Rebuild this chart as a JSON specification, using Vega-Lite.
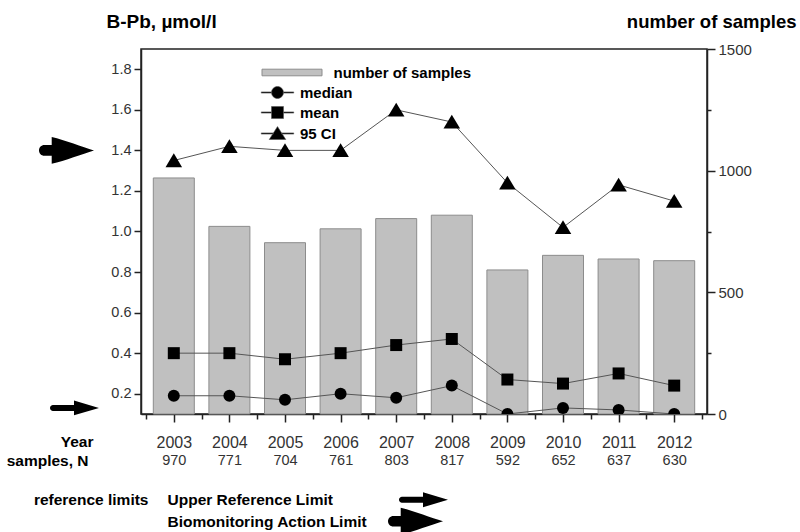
{
  "$schema": "https://vega.github.io/schema/vega-lite/v6.json",
  "padding": {"left": 5, "top": 11, "right": 0, "bottom": 0},
  "datasets": {
    "samples": [
      {"year": 2003, "n": 970, "median": 0.19, "mean": 0.40, "95 CI": 1.35},
      {"year": 2004, "n": 771, "median": 0.19, "mean": 0.40, "95 CI": 1.42},
      {"year": 2005, "n": 704, "median": 0.17, "mean": 0.37, "95 CI": 1.40},
      {"year": 2006, "n": 761, "median": 0.20, "mean": 0.40, "95 CI": 1.40},
      {"year": 2007, "n": 803, "median": 0.18, "mean": 0.44, "95 CI": 1.60},
      {"year": 2008, "n": 817, "median": 0.24, "mean": 0.47, "95 CI": 1.54},
      {"year": 2009, "n": 592, "median": 0.10, "mean": 0.27, "95 CI": 1.24},
      {"year": 2010, "n": 652, "median": 0.13, "mean": 0.25, "95 CI": 1.02},
      {"year": 2011, "n": 637, "median": 0.12, "mean": 0.30, "95 CI": 1.23},
      {"year": 2012, "n": 630, "median": 0.10, "mean": 0.24, "95 CI": 1.15}
    ],
    "limits": [
      {"limit": "Upper Reference Limit", "value": 0.13},
      {"limit": "Biomonitoring Action Limit", "value": 1.4}
    ]
  },
  "bounds": "flush",
  "spacing": 43,
  "hconcat": [
    {
      "width": 60,
      "height": 365,
      "data": {"name": "limits"},
      "layer": [
        {
          "transform": [{"filter": "datum.limit === 'Upper Reference Limit'"}],
          "mark": {"type": "point", "filled": true, "color": "black", "opacity": 1, "size": 576,
                   "shape": "M-1.25,-0.25L0.5,-0.25L0.5,-0.62L2.583,0L0.5,0.62L0.5,0.25L-1.25,0.25A0.25,0.25 0 0 1 -1.25,-0.25Z"},
          "encoding": {
            "y": {"field": "value", "type": "quantitative", "scale": {"domain": [0.1, 1.9], "nice": false, "zero": false}, "axis": null}
          }
        },
        {
          "transform": [{"filter": "datum.limit === 'Biomonitoring Action Limit'"}],
          "mark": {"type": "point", "filled": true, "color": "black", "opacity": 1, "size": 576,
                   "shape": "M-1.976,-0.44L-1.358,-0.44L-1.358,-1.12C-0.23,-0.85 1.17,-0.3 2.167,0C1.17,0.3 -0.23,0.85 -1.358,1.12L-1.358,0.44L-1.976,0.44A0.44,0.44 0 0 1 -1.976,-0.44Z"},
          "encoding": {
            "y": {"field": "value", "type": "quantitative", "scale": {"domain": [0.1, 1.9], "nice": false, "zero": false}, "axis": null}
          }
        }
      ]
    },
    {
      "bounds": "flush",
      "spacing": 75,
      "vconcat": [
        {
          "width": 566,
          "height": 365,
          "view": {"stroke": "#222", "strokeWidth": 1.5},
          "data": {"name": "samples"},
          "layer": [
            {
              "mark": {"type": "bar", "orient": "vertical", "size": 41, "stroke": "#8c8c8c", "strokeWidth": 1},
              "encoding": {
                "x": {
                  "field": "year", "type": "quantitative",
                  "scale": {"domain": [2002.5, 2012.5], "nice": false, "zero": false},
                  "axis": {
                    "orient": "bottom",
                    "values": [2003, 2004, 2005, 2006, 2007, 2008, 2009, 2010, 2011, 2012],
                    "format": "d",
                    "labelOverlap": false,
                    "tickSize": 8,
                    "labelFontSize": 16,
                    "labelPadding": 20.5,
                    "labelBaseline": "middle",
                    "title": "Year",
                    "titleX": -48,
                    "titleY": 27.5,
                    "titleAlign": "right",
                    "titleBaseline": "middle",
                    "titleAngle": 0,
                    "titleFontSize": 15.5,
                    "titleFontWeight": "bold",
                    "titleColor": "black"
                  }
                },
                "y": {
                  "field": "n", "type": "quantitative",
                  "scale": {"domain": [0, 1500], "nice": false},
                  "axis": {
                    "orient": "right",
                    "values": [0, 250, 500, 750, 1000, 1250, 1500],
                    "format": "d",
                    "labelExpr": "datum.value % 500 === 0 ? datum.label : ''",
                    "labelOverlap": false,
                    "tickSize": {"condition": {"test": "datum.value % 500 !== 0", "value": 4}, "value": 8},
                    "labelFontSize": 15,
                    "labelPadding": 3,
                    "title": "number of samples",
                    "titleAngle": 0,
                    "titleX": 89,
                    "titleY": -21.5,
                    "titleAlign": "right",
                    "titleBaseline": "alphabetic",
                    "titleFontSize": 18.5,
                    "titleFontWeight": "bold",
                    "titleColor": "black"
                  }
                },
                "fill": {
                  "datum": "number of samples", "type": "nominal",
                  "scale": {"range": ["#c0c0c0"]},
                  "legend": {
                    "title": null,
                    "orient": "none",
                    "legendX": 246.5,
                    "legendY": 16,
                    "padding": 0,
                    "symbolType": "M-5,-0.55H5V0.55H-5Z",
                    "symbolSize": 144,
                    "symbolStrokeColor": "#8c8c8c",
                    "symbolStrokeWidth": 1,
                    "labelOffset": 34,
                    "labelFontSize": 15,
                    "labelFontWeight": "bold",
                    "labelColor": "black"
                  }
                }
              }
            },
            {
              "transform": [{"fold": ["median", "mean", "95 CI"], "as": ["stat", "value"]}],
              "layer": [
                {
                  "mark": {"type": "line", "strokeWidth": 1, "clip": true},
                  "encoding": {
                    "x": {
                      "field": "year", "type": "quantitative",
                      "scale": {"domain": [2002.5, 2012.5], "nice": false, "zero": false},
                      "axis": {
                        "orient": "bottom",
                        "values": [2003, 2004, 2005, 2006, 2007, 2008, 2009, 2010, 2011, 2012],
                        "labelExpr": "'' + data('samples')[datum.value - 2003].n",
                        "labelOverlap": false,
                        "ticks": false,
                        "tickSize": 0,
                        "domain": false,
                        "labelFontSize": 14.5,
                        "labelPadding": 46.5,
                        "labelBaseline": "middle",
                        "title": "samples, N",
                        "titleX": -53,
                        "titleY": 46.5,
                        "titleAlign": "right",
                        "titleBaseline": "middle",
                        "titleAngle": 0,
                        "titleFontSize": 15.5,
                        "titleFontWeight": "bold",
                        "titleColor": "black"
                      }
                    },
                    "y": {
                      "field": "value", "type": "quantitative",
                      "scale": {"domain": [0.1, 1.9], "nice": false, "zero": false},
                      "axis": {
                        "orient": "left",
                        "values": [0.2, 0.3, 0.4, 0.5, 0.6, 0.7, 0.8, 0.9, 1.0, 1.1, 1.2, 1.3, 1.4, 1.5, 1.6, 1.7, 1.8],
                        "labelExpr": "round(datum.value * 10) % 2 === 0 ? format(datum.value, '.1f') : ''",
                        "labelOverlap": false,
                        "tickSize": {"condition": {"test": "round(datum.value * 10) % 2 !== 0", "value": 4}, "value": 7},
                        "labelFontSize": 14.5,
                        "labelPadding": 3,
                        "title": "B-Pb, µmol/l",
                        "titleAngle": 0,
                        "titleX": -35,
                        "titleY": -21.5,
                        "titleAlign": "left",
                        "titleBaseline": "alphabetic",
                        "titleFontSize": 19,
                        "titleFontWeight": "bold",
                        "titleColor": "black"
                      }
                    },
                    "stroke": {
                      "field": "stat", "type": "nominal",
                      "scale": {"domain": ["median", "mean", "95 CI"], "range": ["#555", "#555", "#555"]},
                      "legend": {
                        "title": null,
                        "orient": "none",
                        "legendX": 232,
                        "legendY": 36,
                        "padding": 0,
                        "symbolType": {"expr": "datum.value === 'median' ? 'M-2.7,-0.1H-0.95V0.1H-2.7Z M0.95,-0.1H2.7V0.1H0.95Z M1,0A1,1 0 1,1 -1,0A1,1 0 1,1 1,0Z' : datum.value === 'mean' ? 'M-2.7,-0.1H-1V0.1H-2.7Z M1,-0.1H2.7V0.1H1Z M-1,-1H1V1H-1Z' : 'M-2.7,-0.1H-0.7V0.1H-2.7Z M0.7,-0.1H2.7V0.1H0.7Z M0,-1.15L1.38,1L-1.38,1Z'"},
                        "symbolSize": 144,
                        "symbolFillColor": "black",
                        "symbolStrokeWidth": 0.6,
                        "labelOffset": 15,
                        "rowPadding": 4,
                        "labelFontSize": 15,
                        "labelFontWeight": "bold",
                        "labelColor": "black"
                      }
                    }
                  }
                },
                {
                  "transform": [{"filter": "datum.stat === 'median'"}],
                  "mark": {"type": "point", "filled": true, "opacity": 1, "color": "black", "size": 144, "shape": "circle", "clip": true},
                  "encoding": {
                    "x": {
                      "field": "year", "type": "quantitative",
                      "axis": {
                        "orient": "bottom",
                        "values": [2002.5, 2003.5, 2004.5, 2005.5, 2006.5, 2007.5, 2008.5, 2009.5, 2010.5, 2011.5, 2012.5],
                        "labels": false,
                        "tickSize": 5,
                        "domain": false,
                        "title": null
                      }
                    },
                    "y": {"field": "value", "type": "quantitative"}
                  }
                },
                {
                  "transform": [{"filter": "datum.stat === 'mean'"}],
                  "mark": {"type": "point", "filled": true, "opacity": 1, "color": "black", "size": 144, "shape": "square", "clip": true},
                  "encoding": {
                    "x": {"field": "year", "type": "quantitative", "axis": null},
                    "y": {"field": "value", "type": "quantitative"}
                  }
                },
                {
                  "transform": [{"filter": "datum.stat === '95 CI'"}],
                  "mark": {"type": "point", "filled": true, "opacity": 1, "color": "black", "size": 144, "shape": "M0,-1.2L1.38,1.1L-1.38,1.1Z", "clip": true},
                  "encoding": {
                    "x": {"field": "year", "type": "quantitative", "axis": null},
                    "y": {"field": "value", "type": "quantitative"}
                  }
                }
              ],
              "resolve": {"axis": {"x": "independent"}}
            }
          ],
          "resolve": {"scale": {"y": "independent"}, "axis": {"x": "independent"}}
        },
        {
          "width": 552,
          "height": 43,
          "data": {"name": "limits"},
          "layer": [
            {
              "transform": [{"filter": "datum.limit === 'Upper Reference Limit'"}],
              "mark": {"type": "point", "filled": true, "color": "black", "opacity": 1, "size": 576,
                       "shape": "M-1.25,-0.25L0.5,-0.25L0.5,-0.62L2.583,0L0.5,0.62L0.5,0.25L-1.25,0.25A0.25,0.25 0 0 1 -1.25,-0.25Z"},
              "encoding": {
                "y": {
                  "field": "limit", "type": "nominal",
                  "scale": {"domain": ["Upper Reference Limit", "Biomonitoring Action Limit"]},
                  "axis": {
                    "title": "reference limits",
                    "titleAngle": 0,
                    "titleAlign": "right",
                    "titleBaseline": "middle",
                    "titleX": 7,
                    "titleY": 10.75,
                    "titleFontSize": 15.5,
                    "titleFontWeight": "bold",
                    "titleColor": "black",
                    "labelAlign": "left",
                    "labelPadding": -26,
                    "labelLimit": 0,
                    "labelOverlap": false,
                    "labelFontSize": 15.5,
                    "labelFontWeight": "bold",
                    "labelColor": "black",
                    "ticks": false,
                    "tickSize": 0,
                    "domain": false
                  }
                }
              }
            },
            {
              "transform": [{"filter": "datum.limit === 'Biomonitoring Action Limit'"}],
              "mark": {"type": "point", "filled": true, "color": "black", "opacity": 1, "size": 576,
                       "shape": "M-1.976,-0.44L-1.358,-0.44L-1.358,-1.12C-0.23,-0.85 1.17,-0.3 2.167,0C1.17,0.3 -0.23,0.85 -1.358,1.12L-1.358,0.44L-1.976,0.44A0.44,0.44 0 0 1 -1.976,-0.44Z"},
              "encoding": {
                "y": {"field": "limit", "type": "nominal", "scale": {"domain": ["Upper Reference Limit", "Biomonitoring Action Limit"]}}
              }
            }
          ]
        }
      ]
    }
  ],
  "config": {
    "font": "Liberation Sans",
    "view": {"stroke": null},
    "axis": {
      "grid": false,
      "labelFlush": false,
      "labelOverlap": false,
      "domainColor": "#222",
      "domainWidth": 1.5,
      "tickColor": "#222",
      "tickWidth": 1.5,
      "labelColor": "#333"
    }
  }
}
